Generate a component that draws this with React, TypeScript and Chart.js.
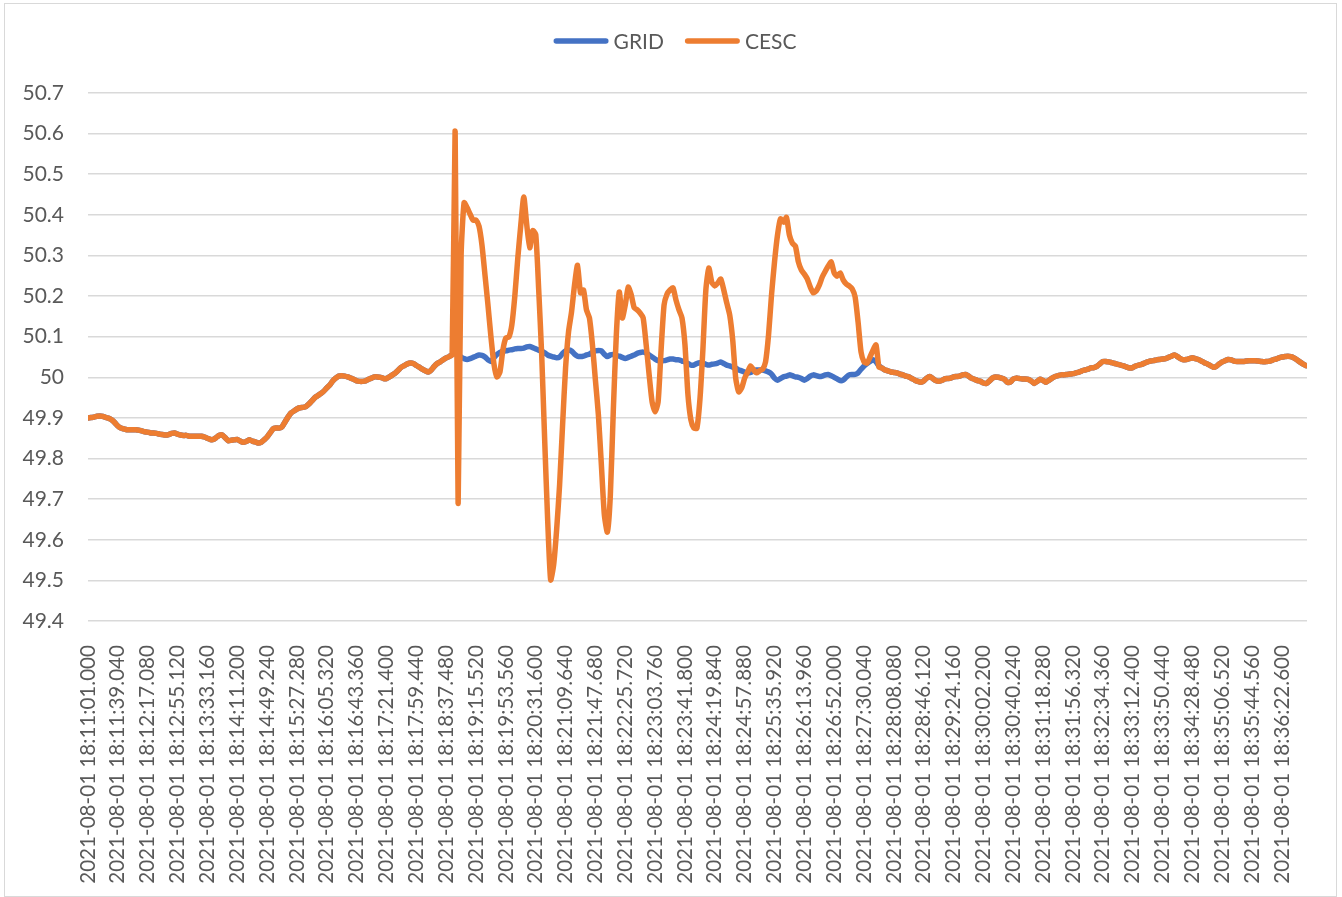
import React, { useEffect, useRef } from "react";
import { Chart, registerables } from "chart.js";

Chart.register(...registerables);

// X tick labels (one every 10 samples)
const tickLabels = [
  "2021-08-01 18:11:01.000", "2021-08-01 18:11:39.040", "2021-08-01 18:12:17.080", "2021-08-01 18:12:55.120",
  "2021-08-01 18:13:33.160", "2021-08-01 18:14:11.200", "2021-08-01 18:14:49.240", "2021-08-01 18:15:27.280",
  "2021-08-01 18:16:05.320", "2021-08-01 18:16:43.360", "2021-08-01 18:17:21.400", "2021-08-01 18:17:59.440",
  "2021-08-01 18:18:37.480", "2021-08-01 18:19:15.520", "2021-08-01 18:19:53.560", "2021-08-01 18:20:31.600",
  "2021-08-01 18:21:09.640", "2021-08-01 18:21:47.680", "2021-08-01 18:22:25.720", "2021-08-01 18:23:03.760",
  "2021-08-01 18:23:41.800", "2021-08-01 18:24:19.840", "2021-08-01 18:24:57.880", "2021-08-01 18:25:35.920",
  "2021-08-01 18:26:13.960", "2021-08-01 18:26:52.000", "2021-08-01 18:27:30.040", "2021-08-01 18:28:08.080",
  "2021-08-01 18:28:46.120", "2021-08-01 18:29:24.160", "2021-08-01 18:30:02.200", "2021-08-01 18:30:40.240",
  "2021-08-01 18:31:18.280", "2021-08-01 18:31:56.320", "2021-08-01 18:32:34.360", "2021-08-01 18:33:12.400",
  "2021-08-01 18:33:50.440", "2021-08-01 18:34:28.480", "2021-08-01 18:35:06.520", "2021-08-01 18:35:44.560",
  "2021-08-01 18:36:22.600",
];
const SAMPLES_PER_LABEL = 10;
const X_MAX = 408.4;

// Both series coincide before the disturbance (samples 0..119)
const sharedStart = [
  49.900, 49.901, 49.902, 49.904, 49.905, 49.904, 49.901, 49.899, 49.895, 49.888,
  49.880, 49.875, 49.873, 49.871, 49.871, 49.871, 49.871, 49.870, 49.868, 49.866,
  49.865, 49.863, 49.863, 49.862, 49.860, 49.859, 49.858, 49.859, 49.862, 49.863,
  49.860, 49.858, 49.857, 49.857, 49.855, 49.855, 49.855, 49.855, 49.855, 49.853,
  49.850, 49.847, 49.847, 49.852, 49.857, 49.858, 49.851, 49.844, 49.845, 49.846,
  49.847, 49.843, 49.840, 49.842, 49.846, 49.843, 49.841, 49.838, 49.840, 49.846,
  49.853, 49.863, 49.873, 49.875, 49.875, 49.878, 49.890, 49.902, 49.912, 49.917,
  49.922, 49.925, 49.926, 49.928, 49.934, 49.942, 49.950, 49.955, 49.960, 49.966,
  49.974, 49.981, 49.991, 49.998, 50.003, 50.004, 50.003, 50.001, 49.998, 49.995,
  49.991, 49.990, 49.990, 49.991, 49.995, 49.998, 50.001, 50.001, 50.000, 49.997,
  49.997, 50.001, 50.006, 50.011, 50.018, 50.025, 50.029, 50.033, 50.035, 50.034,
  50.029, 50.025, 50.020, 50.016, 50.013, 50.018, 50.027, 50.034, 50.038, 50.043,
];

// GRID during the disturbance (samples 120..269)
const gridMiddle = [
  50.048, 50.051, 50.056, 50.059, 50.055, 50.050, 50.046, 50.044, 50.046, 50.049,
  50.052, 50.055, 50.054, 50.050, 50.043, 50.039, 50.048, 50.056, 50.061, 50.064,
  50.065, 50.067, 50.068, 50.070, 50.071, 50.071, 50.072, 50.075, 50.076, 50.073,
  50.070, 50.067, 50.064, 50.060, 50.055, 50.052, 50.050, 50.048, 50.050, 50.059,
  50.065, 50.067, 50.065, 50.057, 50.052, 50.051, 50.052, 50.055, 50.057, 50.062,
  50.065, 50.066, 50.065, 50.057, 50.051, 50.055, 50.056, 50.054, 50.052, 50.049,
  50.046, 50.049, 50.052, 50.055, 50.059, 50.061, 50.062, 50.060, 50.055, 50.050,
  50.045, 50.041, 50.040, 50.041, 50.043, 50.045, 50.045, 50.043, 50.043, 50.040,
  50.038, 50.034, 50.030, 50.030, 50.034, 50.036, 50.035, 50.032, 50.030, 50.032,
  50.033, 50.035, 50.038, 50.034, 50.030, 50.028, 50.025, 50.023, 50.018, 50.016,
  50.013, 50.011, 50.012, 50.016, 50.018, 50.018, 50.018, 50.016, 50.013, 50.008,
  49.998, 49.993, 49.997, 50.001, 50.003, 50.006, 50.004, 50.001, 50.000, 49.997,
  49.993, 49.997, 50.003, 50.006, 50.004, 50.002, 50.003, 50.006, 50.007, 50.004,
  50.000, 49.996, 49.992, 49.993, 50.000, 50.006, 50.007, 50.007, 50.011, 50.020,
  50.028, 50.034, 50.039, 50.043, 50.038, 50.028, 50.023, 50.018, 50.016, 50.013,
];

// CESC during the disturbance (samples 120..269)
const cescMiddle = [
  50.048, 50.051, 50.056, 50.605, 49.690, 50.300, 50.430, 50.418, 50.402, 50.387,
  50.387, 50.372, 50.325, 50.252, 50.178, 50.099, 50.033, 50.001, 50.013, 50.067,
  50.097, 50.099, 50.129, 50.200, 50.294, 50.375, 50.444, 50.375, 50.319, 50.361,
  50.352, 50.215, 50.055, 49.846, 49.649, 49.501, 49.538, 49.624, 49.735, 49.883,
  50.023, 50.112, 50.161, 50.227, 50.276, 50.208, 50.215, 50.166, 50.146, 50.080,
  49.993, 49.907, 49.784, 49.661, 49.619, 49.710, 49.920, 50.104, 50.210, 50.146,
  50.178, 50.222, 50.203, 50.171, 50.166, 50.158, 50.146, 50.080, 50.006, 49.939,
  49.915, 49.939, 50.067, 50.178, 50.205, 50.215, 50.220, 50.190, 50.166, 50.146,
  50.080, 49.957, 49.895, 49.875, 49.875, 49.944, 50.067, 50.215, 50.269, 50.234,
  50.225, 50.232, 50.242, 50.215, 50.183, 50.153, 50.092, 49.998, 49.964, 49.974,
  49.998, 50.013, 50.028, 50.018, 50.011, 50.016, 50.020, 50.038, 50.104, 50.203,
  50.284, 50.350, 50.390, 50.382, 50.394, 50.350, 50.330, 50.323, 50.284, 50.264,
  50.254, 50.242, 50.222, 50.208, 50.213, 50.227, 50.247, 50.261, 50.274, 50.284,
  50.257, 50.249, 50.257, 50.240, 50.230, 50.225, 50.218, 50.198, 50.136, 50.062,
  50.038, 50.035, 50.050, 50.067, 50.080, 50.025, 50.023, 50.018, 50.016, 50.013,
];

// Both series coincide after the disturbance (samples 270..408)
const sharedEnd = [
  50.012, 50.011, 50.008, 50.006, 50.003, 50.001, 49.997, 49.993, 49.990, 49.988,
  49.991, 49.998, 50.002, 49.997, 49.992, 49.990, 49.992, 49.996, 49.997, 49.998,
  50.001, 50.002, 50.003, 50.006, 50.007, 50.003, 49.998, 49.995, 49.992, 49.990,
  49.986, 49.985, 49.991, 49.998, 50.001, 50.000, 49.998, 49.995, 49.988, 49.988,
  49.996, 49.998, 49.997, 49.996, 49.996, 49.995, 49.991, 49.985, 49.990, 49.995,
  49.992, 49.988, 49.993, 49.998, 50.002, 50.004, 50.006, 50.006, 50.007, 50.008,
  50.009, 50.011, 50.013, 50.016, 50.018, 50.020, 50.023, 50.024, 50.027, 50.033,
  50.039, 50.039, 50.038, 50.036, 50.034, 50.032, 50.030, 50.028, 50.025, 50.023,
  50.024, 50.028, 50.030, 50.032, 50.035, 50.038, 50.040, 50.041, 50.043, 50.044,
  50.045, 50.046, 50.049, 50.052, 50.055, 50.051, 50.046, 50.043, 50.044, 50.046,
  50.048, 50.046, 50.044, 50.040, 50.036, 50.033, 50.029, 50.025, 50.027, 50.033,
  50.038, 50.041, 50.044, 50.043, 50.040, 50.039, 50.039, 50.039, 50.040, 50.041,
  50.041, 50.041, 50.040, 50.039, 50.038, 50.039, 50.040, 50.043, 50.045, 50.048,
  50.050, 50.051, 50.052, 50.051, 50.048, 50.043, 50.038, 50.033, 50.029,
];

const gridHz = [...sharedStart, ...gridMiddle, ...sharedEnd];
const cescHz = [...sharedStart, ...cescMiddle, ...sharedEnd];

const seriesNames = ["GRID", "CESC"];
const seriesColors = ["#4472C4", "#ED7D31"];

const Y_MIN = 49.4;
const Y_MAX = 50.7;
const Y_STEP = 0.1;

const FONT_FAMILY = "Lato, 'Open Sans', sans-serif";
const TEXT_COLOR = "#595959";

const legendPlugin = {
  id: "excelLegend",
  afterDraw(chart: any) {
    const ctx = chart.ctx as CanvasRenderingContext2D;
    ctx.save();
    ctx.font = `21px ${FONT_FAMILY}`;
    const lineLen = 55;
    const gapText = 5;
    const gapItem = 21;
    const items = chart.data.datasets.map((ds: any) => ({
      label: ds.label as string,
      color: ds.borderColor as string,
      w: ctx.measureText(ds.label).width,
    }));
    const total =
      items.reduce((s: number, it: any) => s + lineLen + gapText + it.w, 0) +
      gapItem * (items.length - 1);
    let x = chart.width / 2 + 4 - total / 2;
    const y = 41;
    items.forEach((it: any) => {
      ctx.strokeStyle = it.color;
      ctx.lineWidth = 5.5;
      ctx.lineCap = "round";
      ctx.beginPath();
      ctx.moveTo(x + 2.75, y);
      ctx.lineTo(x + lineLen - 2.75, y);
      ctx.stroke();
      x += lineLen + gapText;
      ctx.fillStyle = TEXT_COLOR;
      ctx.textBaseline = "middle";
      ctx.textAlign = "left";
      ctx.fillText(it.label, x, y + 1);
      x += it.w + gapItem;
    });
    ctx.restore();
  },
};

export default function App() {
  const canvasRef = useRef<HTMLCanvasElement | null>(null);

  useEffect(() => {
    if (!canvasRef.current) return;
    const series = [gridHz, cescHz];
    const chart = new Chart(canvasRef.current, {
      type: "line",
      data: {
        datasets: series.map((vals, s) => ({
          label: seriesNames[s],
          data: vals.map((v, i) => ({ x: i, y: v })),
          borderColor: seriesColors[s],
          backgroundColor: seriesColors[s],
          borderWidth: 5.5,
          pointRadius: 0,
          pointHoverRadius: 0,
          tension: 0.2,
          borderCapStyle: "round",
          borderJoinStyle: "round",
          fill: false,
          order: s === 0 ? 1 : 0,
        })),
      },
      options: {
        animation: false,
        responsive: false,
        devicePixelRatio: 1,
        layout: { padding: { top: 93, right: 35, bottom: 0, left: 0 } },
        plugins: {
          legend: { display: false },
          tooltip: { enabled: false },
        },
        scales: {
          x: {
            type: "linear",
            min: 0,
            max: X_MAX,
            grid: { display: false },
            border: { display: false },
            ticks: {
              autoSkip: false,
              minRotation: 90,
              maxRotation: 90,
              padding: 16,
              color: TEXT_COLOR,
              font: { family: FONT_FAMILY, size: 20.6 },
              callback: (v: any) => tickLabels[Math.round(Number(v) / SAMPLES_PER_LABEL)] ?? "",
            },
            afterBuildTicks: (axis: any) => {
              axis.ticks = tickLabels.map((_, k) => ({ value: k * SAMPLES_PER_LABEL }));
            },
            afterFit: (axis: any) => {
              axis.height = 276;
            },
          },
          y: {
            type: "linear",
            min: Y_MIN,
            max: Y_MAX,
            grid: { color: "#d9d9d9", lineWidth: 1.5, drawTicks: false },
            border: { display: false },
            ticks: {
              stepSize: Y_STEP,
              padding: 24,
              color: TEXT_COLOR,
              font: { family: FONT_FAMILY, size: 21 },
              callback: (v: any) => String(Math.round(Number(v) * 10) / 10),
            },
            afterFit: (axis: any) => {
              axis.width = 88;
            },
          },
        },
      } as any,
      plugins: [legendPlugin],
    });
    return () => chart.destroy();
  }, []);

  return (
    <div style={{ position: "fixed", left: 0, top: 0, width: 1342, height: 897, background: "#fff" }}>
      <div
        style={{
          position: "absolute",
          left: 4,
          top: 3,
          width: 1333,
          height: 894,
          border: "1px solid #d9d9d9",
          boxSizing: "border-box",
        }}
      />
      <canvas ref={canvasRef} width={1342} height={897} style={{ position: "absolute", left: 0, top: 0, display: "block" }} />
    </div>
  );
}
